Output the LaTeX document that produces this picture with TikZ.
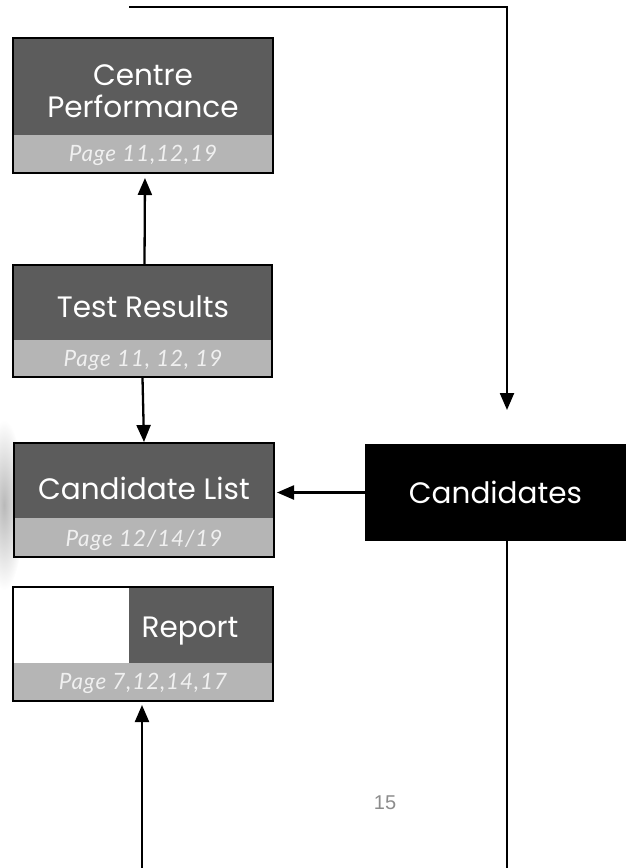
\documentclass[tikz,border=0pt]{standalone}
\usepackage{fontspec}
\setmainfont{Poppins}
\newfontfamily\pagefont[LetterSpace=4]{Lato}
\newfontfamily\arialfont{Liberation Sans}
\usetikzlibrary{arrows.meta,calc}
\definecolor{darkg}{RGB}{92,92,92}
\definecolor{lightg}{RGB}{181,181,181}
\definecolor{pagetxt}{RGB}{240,240,240}
\definecolor{numg}{RGB}{140,140,140}
\tikzset{
 conn/.style={line width=2.3pt, draw=black},
 arr/.style={conn, -{Triangle[length=17pt,width=14pt]}},
 boxframe/.style={draw=black, line width=2pt, rectangle, inner sep=0pt},
 titletxt/.style={text=white, font=\fontsize{29.5}{32}\selectfont, align=center, inner sep=0pt},
 pagelbl/.style={text=pagetxt, font=\pagefont\itshape\fontsize{22.5}{24}\selectfont, inner sep=0pt},
}
\begin{document}
\begin{tikzpicture}[x=1pt,y=-1pt]
\useasboundingbox (0,0) rectangle (629,868);
% soft shadow at left edge
\shade[inner color=gray!55, outer color=white] (4,505) ellipse [x radius=20pt, y radius=85pt];
% Centre Performance
\fill[darkg] (13,38) rectangle (273,135);
\fill[lightg] (13,135) rectangle (273,173);
\node[boxframe, minimum width=260pt, minimum height=135pt] (cp) at (143,105.5) {};
\node[titletxt] (cpt) at (143,91) {Centre\\Performance};
\node[pagelbl] (cpp) at (143,155) {Page 11,12,19};
% Test Results
\fill[darkg] (13,265) rectangle (272,340);
\fill[lightg] (13,340) rectangle (272,377);
\node[boxframe, minimum width=259pt, minimum height=112pt] (tr) at (142.5,321) {};
\node[titletxt] (trt) at (143,307) {Test Results};
\node[pagelbl] (trp) at (143,360) {Page 11, 12, 19};
% Candidate List
\fill[darkg] (14,443) rectangle (274,518);
\fill[lightg] (14,518) rectangle (274,557);
\node[boxframe, minimum width=260pt, minimum height=114pt] (cl) at (144,500) {};
\node[titletxt] (clt) at (144,488) {Candidate List};
\node[pagelbl] (clp) at (144,540) {Page 12/14/19};
% Report
\fill[white] (13,587) rectangle (129,663);
\fill[darkg] (129,587) rectangle (273,663);
\fill[lightg] (13,663) rectangle (273,701);
\node[boxframe, minimum width=260pt, minimum height=114pt] (rep) at (143,644) {};
\node[titletxt] (rept) at (190,631) {Report};
\node[pagelbl] (repp) at (143,683) {Page 7,12,14,17};
% Candidates
\node[fill=black, minimum width=261pt, minimum height=97pt, inner sep=0pt, text=white, font=\fontsize{29.5}{32}\selectfont] (cand) at (495.5,492.5) {Candidates};
% connectors
\coordinate (tl) at (129,7);
\coordinate (tcorner) at (507,7);
\coordinate (candin) at (507,410);
\draw[arr] (tl) -- (tcorner) -- (candin);
\draw[arr, shorten >=4pt] ([xshift=2pt]tr.north) -- ([xshift=2pt]cp.south);
\draw[arr] (tr.south) -- (cl.north);
\draw[arr, shorten >=2pt] (cand.west) -- (cand.west -| cl.east);
\coordinate (cbot) at (507,868);
\draw[conn] (cand.south -| cbot) -- (cbot);
\coordinate (rbot) at (142,868);
\draw[arr, shorten >=3pt] (rbot) -- (rbot |- rep.south);
% page number
\node[text=numg, font=\arialfont\fontsize{20}{22}\selectfont] (pnum) at (385,803) {15};
\end{tikzpicture}
\end{document}
